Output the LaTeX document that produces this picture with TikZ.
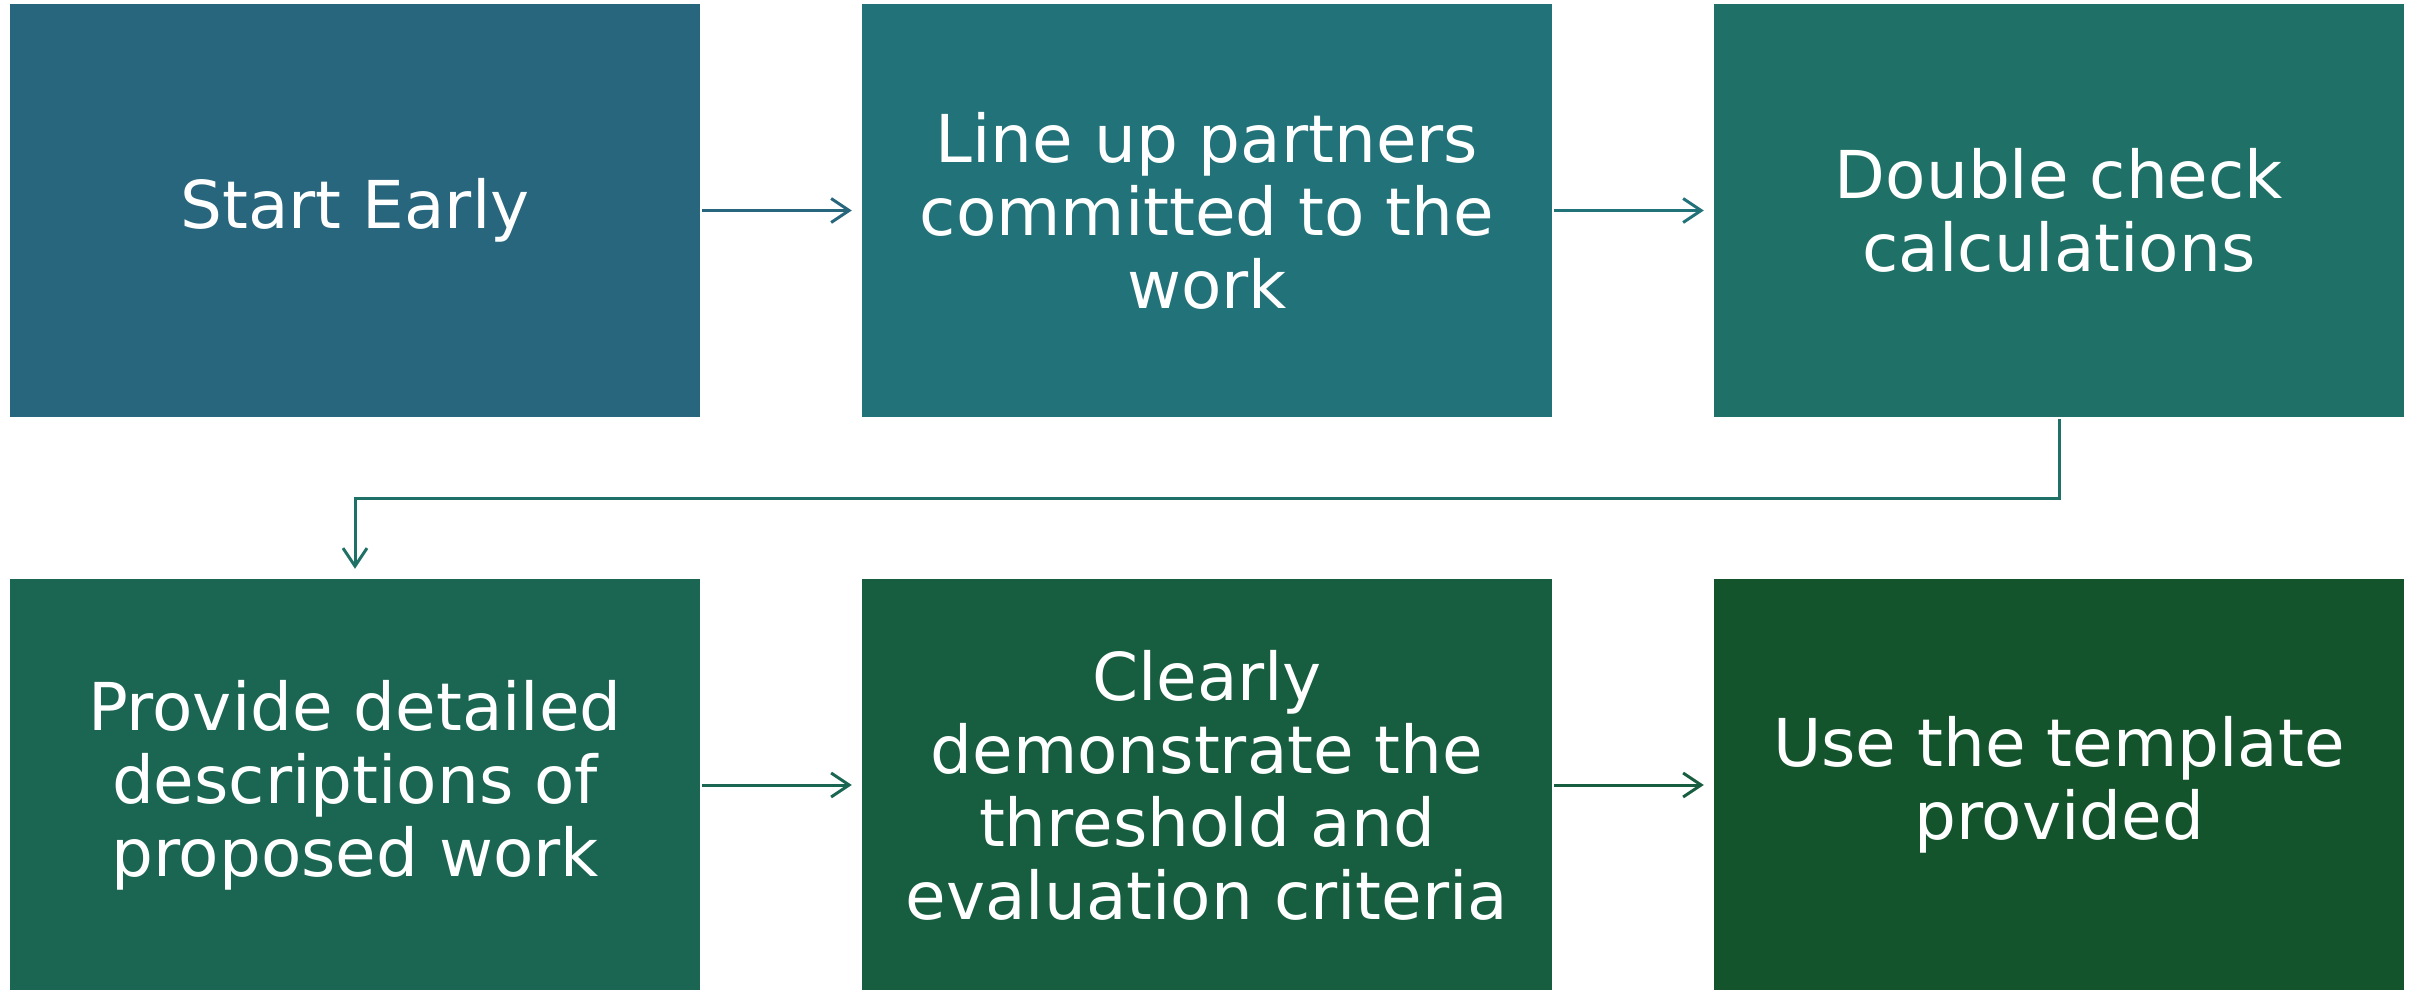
\documentclass[tikz,border=0pt]{standalone}
\usepackage{fontspec}
\setmainfont{DejaVu Sans}
\usetikzlibrary{arrows.meta}
\definecolor{cA}{HTML}{28667E}
\definecolor{cB}{HTML}{22727A}
\definecolor{cC}{HTML}{1F7168}
\definecolor{cD}{HTML}{1B6652}
\definecolor{cE}{HTML}{175E40}
\definecolor{cF}{HTML}{13542C}
\tikzset{
  stepbox/.style={rectangle, minimum width=690pt, minimum height=412pt, inner sep=0pt,
    text=white, align=center, font=\fontsize{66pt}{73pt}\selectfont},
  link/.style={line width=3pt, -{Straight Barb[length=18pt,width=24pt,line width=3pt]}, shorten <=2pt, shorten >=10pt}
}
\begin{document}
\begin{tikzpicture}[x=1pt,y=-1pt]
\useasboundingbox (0,0) rectangle (2415,990);
\node[stepbox, fill=cA] (b1) at (355,210.5) {Start Early};
\node[stepbox, fill=cB] (b2) at (1207,210.5) {Line up partners\\committed to the\\work};
\node[stepbox, fill=cC] (b3) at (2059,210.5) {Double check\\calculations};
\node[stepbox, fill=cD] (b4) at (355,785) {Provide detailed\\descriptions of\\proposed work};
\node[stepbox, fill=cE] (b5) at (1207,785) {Clearly\\demonstrate the\\threshold and\\evaluation criteria};
\node[stepbox, fill=cF] (b6) at (2059,785) {Use the template\\provided};
\coordinate (bend) at (2059,498);
\draw[link, draw=cA] (b1) -- (b2);
\draw[link, draw=cB] (b2) -- (b3);
\draw[link, draw=cC] (b3.south) -- (bend) -| (b4.north);
\draw[link, draw=cD] (b4) -- (b5);
\draw[link, draw=cE] (b5) -- (b6);
\end{tikzpicture}
\end{document}
